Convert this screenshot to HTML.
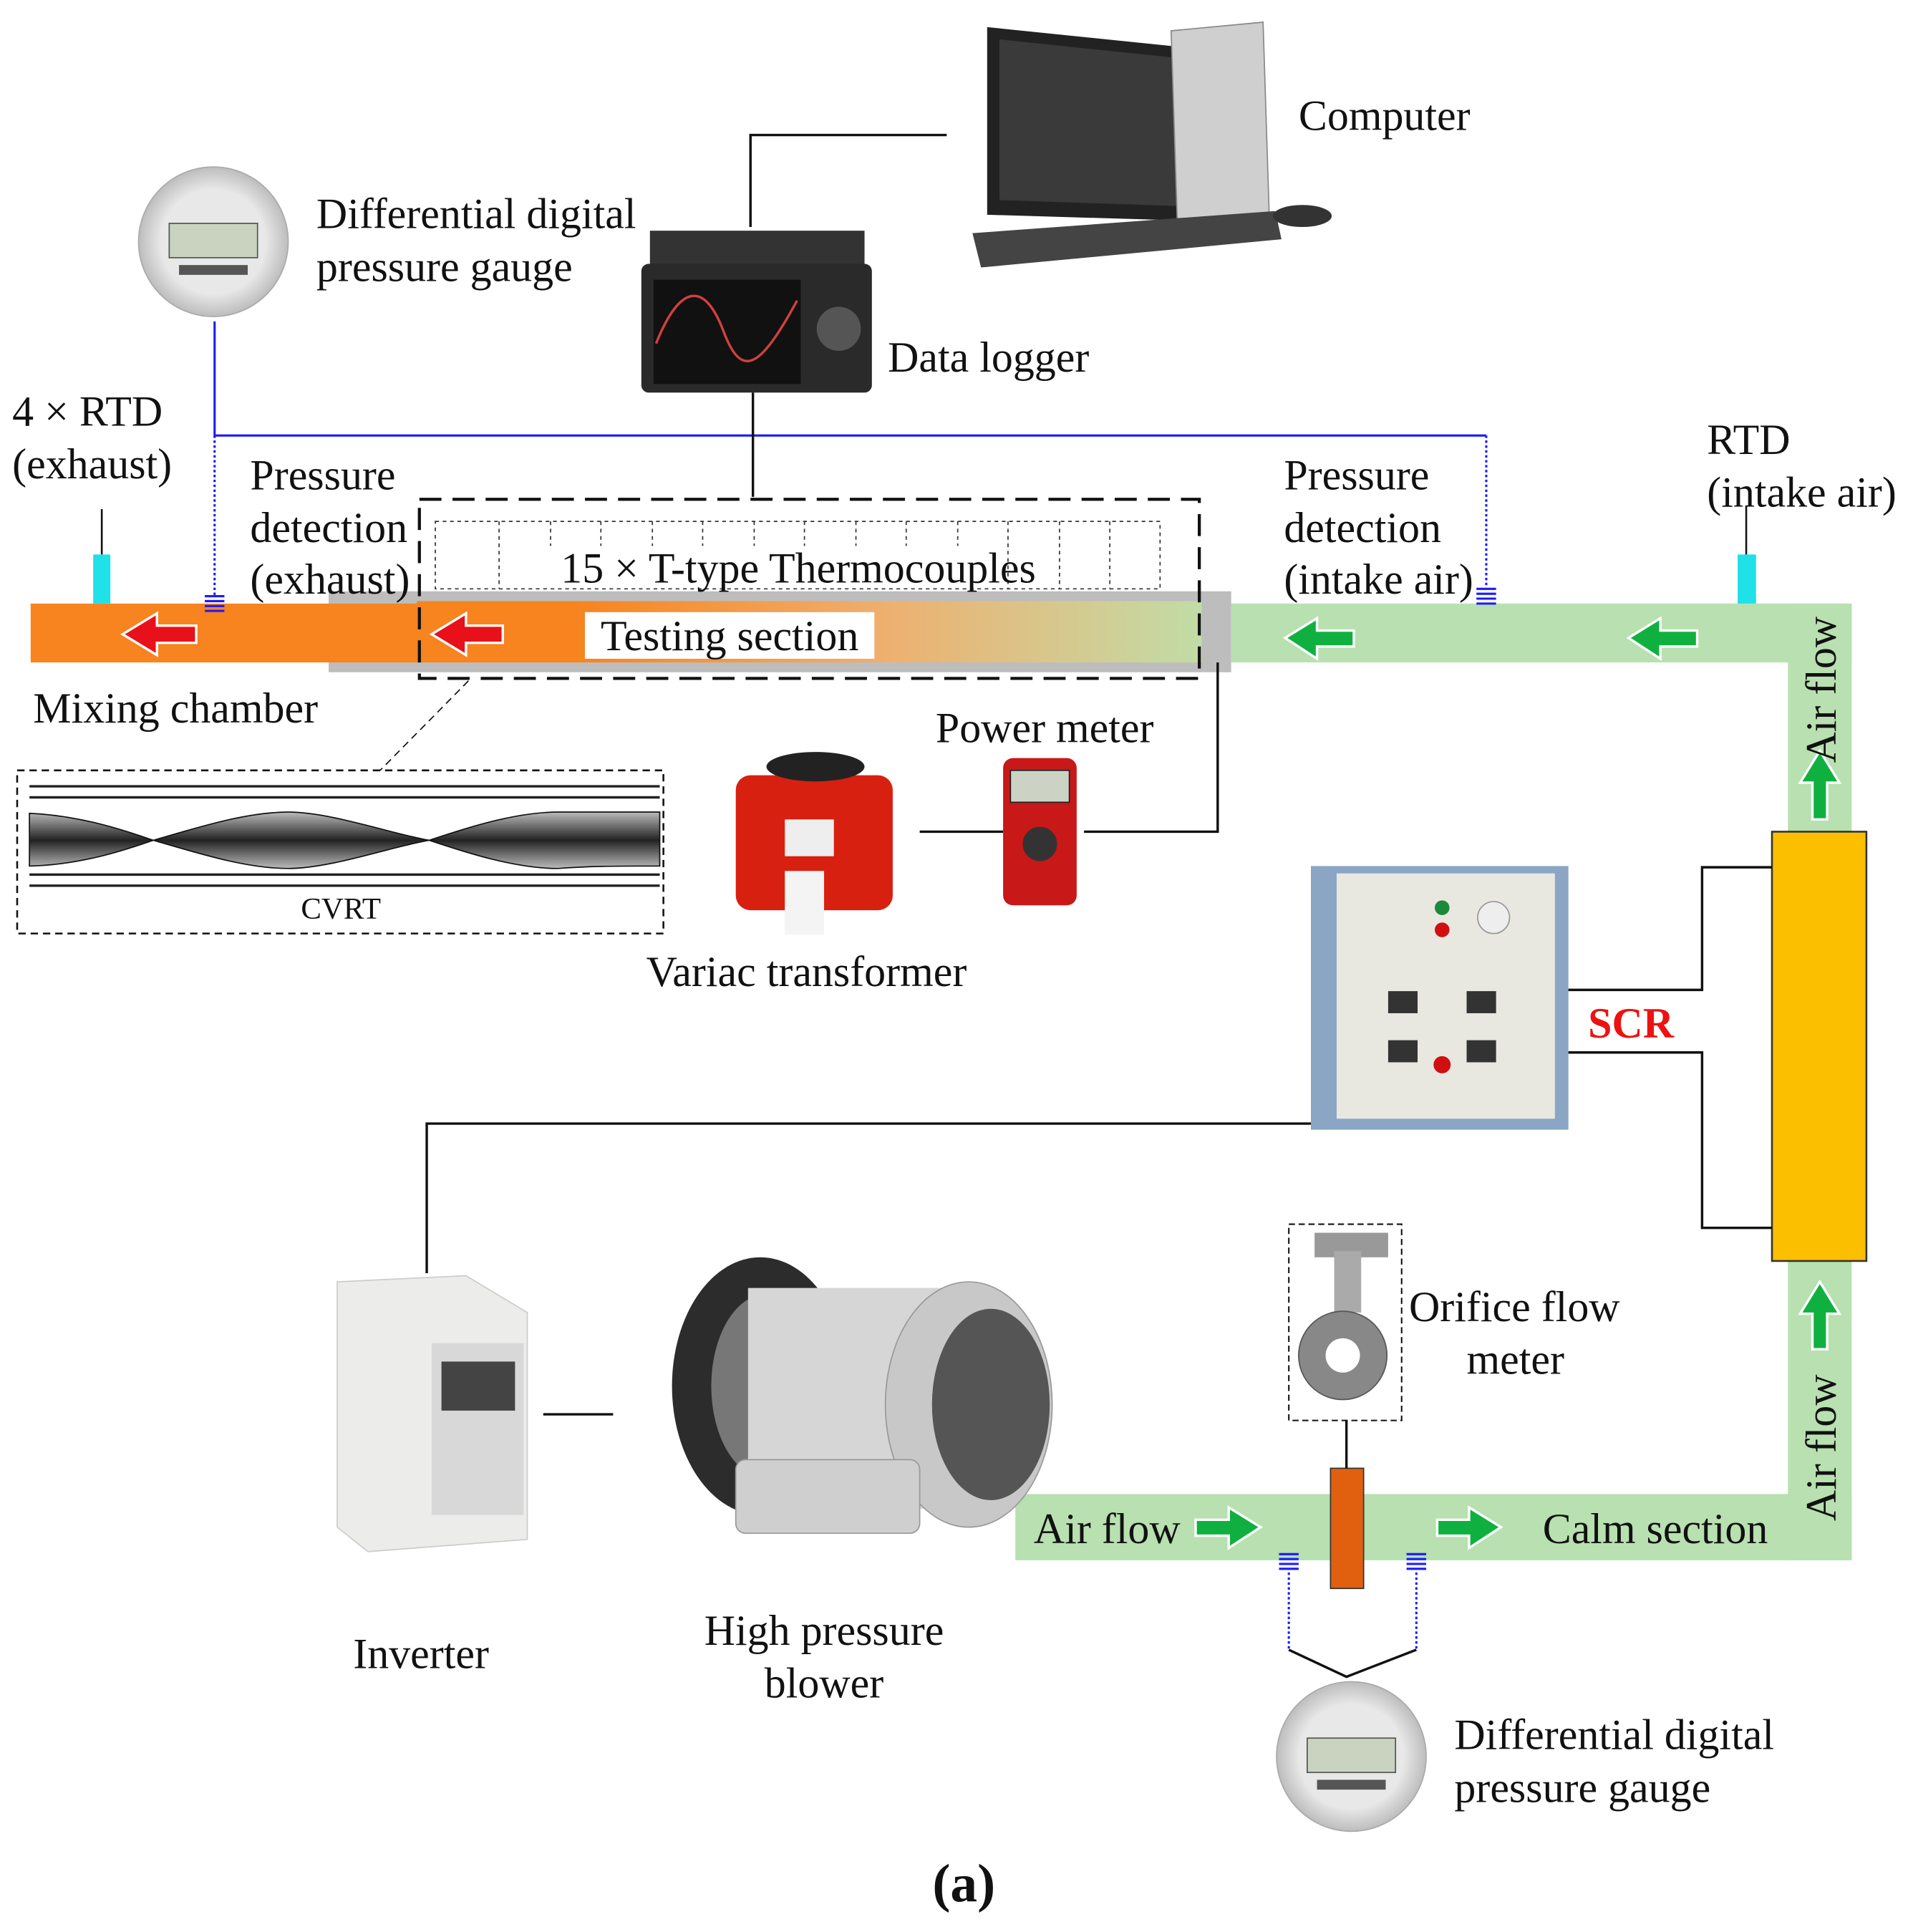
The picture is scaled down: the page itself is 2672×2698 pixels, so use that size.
<!DOCTYPE html>
<html><head><meta charset="utf-8"><style>
html,body{margin:0;padding:0;background:#fff}
svg{display:block}
text{font-family:"Liberation Serif",serif;fill:#111}
</style></head><body>
<svg width="2672" height="2698" viewBox="0 0 1560 1575" xmlns="http://www.w3.org/2000/svg">
<defs>
<linearGradient id="ts" x1="0" x2="1" y1="0" y2="0">
<stop offset="0" stop-color="#f7841f"/><stop offset="0.2" stop-color="#f7841f"/><stop offset="0.6" stop-color="#eeb070"/><stop offset="1" stop-color="#c2dca6"/>
</linearGradient>
<radialGradient id="gg"><stop offset="0.7" stop-color="#e8e8e8"/><stop offset="1" stop-color="#bdbdbd"/></radialGradient>
<linearGradient id="tw" x1="0" x2="0" y1="0" y2="1"><stop offset="0" stop-color="#bbb"/><stop offset="0.5" stop-color="#222"/><stop offset="1" stop-color="#bbb"/></linearGradient>
</defs>

<rect x="268" y="482" width="736" height="66" fill="#bdbdbd"/>
<rect x="25" y="492" width="320" height="48" fill="#f7841f"/>
<rect x="340" y="490" width="640" height="50" fill="url(#ts)"/>
<rect x="1004" y="492" width="506" height="48" fill="#b8e0b0"/>
<rect x="1458" y="492" width="52" height="780" fill="#b8e0b0"/>
<rect x="828" y="1218" width="682" height="54" fill="#b8e0b0"/>
<rect x="1445" y="678" width="77" height="350" fill="#fbbf00" stroke="#333" stroke-width="1.5"/>
<rect x="1085" y="1197" width="27" height="98" fill="#e06010" stroke="#333" stroke-width="1"/>

<rect x="477" y="499" width="236" height="38" fill="#fff"/>
<text x="595" y="530" font-size="35" text-anchor="middle">Testing section</text>

<rect x="342" y="407" width="636" height="146" fill="none" stroke="#111" stroke-width="2.5" stroke-dasharray="18,9"/>
<rect x="355" y="425" width="591" height="55" fill="none" stroke="#333" stroke-width="1" stroke-dasharray="3,3"/>
<g stroke="#333" stroke-width="1" stroke-dasharray="3,3">
<line x1="407" y1="425" x2="407" y2="480"/><line x1="449" y1="425" x2="449" y2="445"/><line x1="490" y1="425" x2="490" y2="445"/>
<line x1="532" y1="425" x2="532" y2="445"/><line x1="573" y1="425" x2="573" y2="445"/><line x1="615" y1="425" x2="615" y2="445"/>
<line x1="656" y1="425" x2="656" y2="445"/><line x1="698" y1="425" x2="698" y2="445"/><line x1="739" y1="425" x2="739" y2="445"/>
<line x1="781" y1="425" x2="781" y2="445"/><line x1="822" y1="425" x2="822" y2="480"/><line x1="864" y1="425" x2="864" y2="480"/><line x1="905" y1="425" x2="905" y2="480"/>
</g>
<text x="651" y="475" font-size="35" text-anchor="middle">15 × T-type Thermocouples</text>

<line x1="382" y1="555" x2="310" y2="628" stroke="#111" stroke-width="1" stroke-dasharray="6,4"/>
<rect x="14" y="628" width="527" height="133" fill="none" stroke="#111" stroke-width="1.5" stroke-dasharray="6,4"/>
<g stroke="#222" stroke-width="2"><line x1="24" y1="641" x2="538" y2="641"/><line x1="24" y1="650" x2="538" y2="650"/><line x1="24" y1="713" x2="538" y2="713"/><line x1="24" y1="722" x2="538" y2="722"/></g>
<path d="M24 663 C70 665 110 680 125 685 C160 675 200 662 235 662 C270 662 320 680 350 685 C380 675 420 662 455 662 C490 662 520 662 538 662 L538 706 C500 706 480 706 455 708 C420 708 380 695 350 685 C320 690 270 708 235 708 C200 708 160 695 125 685 C110 690 70 705 24 706 Z" fill="url(#tw)" stroke="#111"/>
<text x="278" y="749" font-size="25" text-anchor="middle">CVRT</text>

<line x1="83" y1="415" x2="83" y2="452" stroke="#111" stroke-width="1.5"/>
<rect x="76" y="452" width="14" height="40" fill="#20e0e8"/>
<line x1="1424" y1="412" x2="1424" y2="452" stroke="#111" stroke-width="1.5"/>
<rect x="1417" y="452" width="15" height="40" fill="#20e0e8"/>

<g stroke="#1a1aff" stroke-width="1.8" fill="none">
<polyline points="175,262 175,355 1212,355"/>
<line x1="175" y1="355" x2="175" y2="485" stroke-dasharray="2,2"/>
<line x1="1212" y1="355" x2="1212" y2="478" stroke-dasharray="2,2"/>
<line x1="1051" y1="1282" x2="1051" y2="1345" stroke-dasharray="2,2"/>
<line x1="1155" y1="1282" x2="1155" y2="1345" stroke-dasharray="2,2"/>
<path d="M167 486h16M167 490h16M167 494h16M167 498h16"/>
<path d="M1204 480h16M1204 484h16M1204 488h16M1204 492h16"/>
<path d="M1043 1267h16M1043 1271h16M1043 1275h16M1043 1279h16"/>
<path d="M1147 1267h16M1147 1271h16M1147 1275h16M1147 1279h16"/>
</g>

<g stroke="#111" stroke-width="2" fill="none">
<polyline points="612,185 612,110 772,110"/>
<line x1="614" y1="320" x2="614" y2="405"/>
<line x1="750" y1="678" x2="818" y2="678"/>
<polyline points="884,678 993,678 993,540"/>
<polyline points="1278,807 1388,807 1388,707 1445,707"/>
<polyline points="1278,858 1388,858 1388,1001 1445,1001"/>
<polyline points="348,1038 348,916 1070,916"/>
<line x1="443" y1="1153" x2="500" y2="1153"/>
<line x1="1098" y1="1158" x2="1098" y2="1197"/>
<polyline points="1051,1345 1098,1367 1155,1345"/>
</g>
<rect x="1051" y="998" width="92" height="160" fill="none" stroke="#111" stroke-width="1.2" stroke-dasharray="5,3"/>

<g stroke="#fff" stroke-width="2">
<polygon points="100,517 128,500 128,510 160,510 160,524 128,524 128,534" fill="#e8101a"/>
<polygon points="352,517 380,500 380,510 410,510 410,524 380,524 380,534" fill="#e8101a"/>
<polygon points="1048,520 1074,504 1074,514 1104,514 1104,527 1074,527 1074,537" fill="#10b040"/>
<polygon points="1328,520 1354,504 1354,514 1384,514 1384,527 1354,527 1354,537" fill="#10b040"/>
<polygon points="1484,612 1500,638 1490,638 1490,668 1478,668 1478,638 1468,638" fill="#10b040"/>
<polygon points="1484,1045 1500,1071 1490,1071 1490,1100 1478,1100 1478,1071 1468,1071" fill="#10b040"/>
<polygon points="1028,1245 1002,1229 1002,1239 975,1239 975,1252 1002,1252 1002,1262" fill="#10b040"/>
<polygon points="1224,1245 1198,1229 1198,1239 1172,1239 1172,1252 1198,1252 1198,1262" fill="#10b040"/>
</g>

<circle cx="174" cy="197" r="61" fill="url(#gg)" stroke="#aaa"/>
<rect x="138" y="182" width="72" height="28" fill="#c9d3c0" stroke="#555"/>
<rect x="146" y="216" width="56" height="8" fill="#555"/>
<circle cx="1102" cy="1432" r="61" fill="url(#gg)" stroke="#aaa"/>
<rect x="1066" y="1417" width="72" height="28" fill="#c9d3c0" stroke="#555"/>
<rect x="1074" y="1451" width="56" height="8" fill="#555"/>
<polygon points="805,22 980,40 975,180 805,175" fill="#222"/>
<polygon points="815,32 968,48 963,168 815,163" fill="#3a3a3a"/>
<polygon points="955,25 1030,18 1035,175 960,180" fill="#cfcfcf" stroke="#888"/>
<polygon points="793,190 1040,172 1045,195 800,218" fill="#444"/>
<ellipse cx="1062" cy="176" rx="24" ry="9" fill="#333"/>
<rect x="530" y="188" width="175" height="30" fill="#333"/>
<rect x="523" y="215" width="188" height="105" rx="6" fill="#2a2a2a"/>
<rect x="533" y="228" width="120" height="85" fill="#111"/>
<path d="M535 280 C555 230 575 230 590 270 C605 310 620 300 650 245" stroke="#d04040" fill="none" stroke-width="2"/>
<circle cx="684" cy="268" r="18" fill="#555"/>
<rect x="600" y="632" width="128" height="110" rx="12" fill="#d82010"/>
<ellipse cx="665" cy="625" rx="40" ry="12" fill="#222"/>
<rect x="640" y="668" width="40" height="30" fill="#eee"/>
<rect x="640" y="710" width="32" height="52" fill="#f4f4f4"/>
<rect x="818" y="618" width="60" height="120" rx="8" fill="#c81818"/>
<rect x="824" y="628" width="48" height="26" fill="#cdd3c4" stroke="#222"/>
<circle cx="848" cy="688" r="14" fill="#333"/>
<rect x="1069" y="706" width="210" height="215" fill="#8aa6c4"/>
<rect x="1090" y="712" width="178" height="200" fill="#e8e8e0"/>
<circle cx="1176" cy="740" r="6" fill="#1a8a3a"/><circle cx="1176" cy="758" r="6" fill="#d01010"/>
<circle cx="1218" cy="748" r="13" fill="#eee" stroke="#999"/>
<rect x="1132" y="808" width="24" height="18" fill="#333"/><rect x="1196" y="808" width="24" height="18" fill="#333"/>
<rect x="1132" y="848" width="24" height="18" fill="#333"/><rect x="1196" y="848" width="24" height="18" fill="#333"/>
<circle cx="1176" cy="868" r="7" fill="#d01010"/>
<text x="1330" y="846" font-size="35" font-weight="bold" text-anchor="middle" style="fill:#ee1111">SCR</text>
<polygon points="275,1045 380,1040 430,1070 430,1255 300,1265 275,1245" fill="#ececea" stroke="#ccc"/>
<rect x="352" y="1095" width="75" height="140" fill="#d8d8d8"/>
<rect x="360" y="1110" width="60" height="40" fill="#444"/>
<ellipse cx="620" cy="1130" rx="72" ry="105" fill="#2c2c2c"/>
<ellipse cx="625" cy="1130" rx="45" ry="75" fill="#777"/>
<rect x="610" y="1050" width="170" height="180" fill="#d6d6d6"/>
<ellipse cx="790" cy="1145" rx="68" ry="100" fill="#c8c8c8" stroke="#999"/>
<ellipse cx="808" cy="1145" rx="48" ry="78" fill="#555"/>
<rect x="600" y="1190" width="150" height="60" rx="8" fill="#cfcfcf" stroke="#999"/>
<rect x="1072" y="1005" width="60" height="20" fill="#999"/>
<rect x="1088" y="1020" width="22" height="50" fill="#aaa"/>
<circle cx="1095" cy="1105" r="36" fill="#888" stroke="#555"/>
<circle cx="1095" cy="1105" r="14" fill="#fff"/>

<g font-size="35">
<text x="1059" y="106">Computer</text>
<text x="258" y="186">Differential digital</text>
<text x="258" y="229">pressure gauge</text>
<text x="724" y="303">Data logger</text>
<text x="10" y="347">4 × RTD</text>
<text x="10" y="390">(exhaust)</text>
<text x="204" y="399">Pressure</text>
<text x="204" y="442">detection</text>
<text x="204" y="484">(exhaust)</text>
<text x="1047" y="399">Pressure</text>
<text x="1047" y="442">detection</text>
<text x="1047" y="484">(intake air)</text>
<text x="1392" y="370">RTD</text>
<text x="1392" y="413">(intake air)</text>
<text x="27" y="589">Mixing chamber</text>
<text x="763" y="605">Power meter</text>
<text x="527" y="804">Variac transformer</text>
<text x="1149" y="1077">Orifice flow</text>
<text x="1196" y="1120">meter</text>
<text x="843" y="1258">Air flow</text>
<text x="1258" y="1258">Calm section</text>
<text x="288" y="1360">Inverter</text>
<text x="672" y="1341" text-anchor="middle">High pressure</text>
<text x="672" y="1384" text-anchor="middle">blower</text>
<text x="1186" y="1426">Differential digital</text>
<text x="1186" y="1469">pressure gauge</text>
<text x="1497" y="622" transform="rotate(-90 1497 622)">Air flow</text>
<text x="1497" y="1240" transform="rotate(-90 1497 1240)">Air flow</text>
<text x="786" y="1550" font-size="44" font-weight="bold" text-anchor="middle">(a)</text>
</g>
</svg>
</body></html>
